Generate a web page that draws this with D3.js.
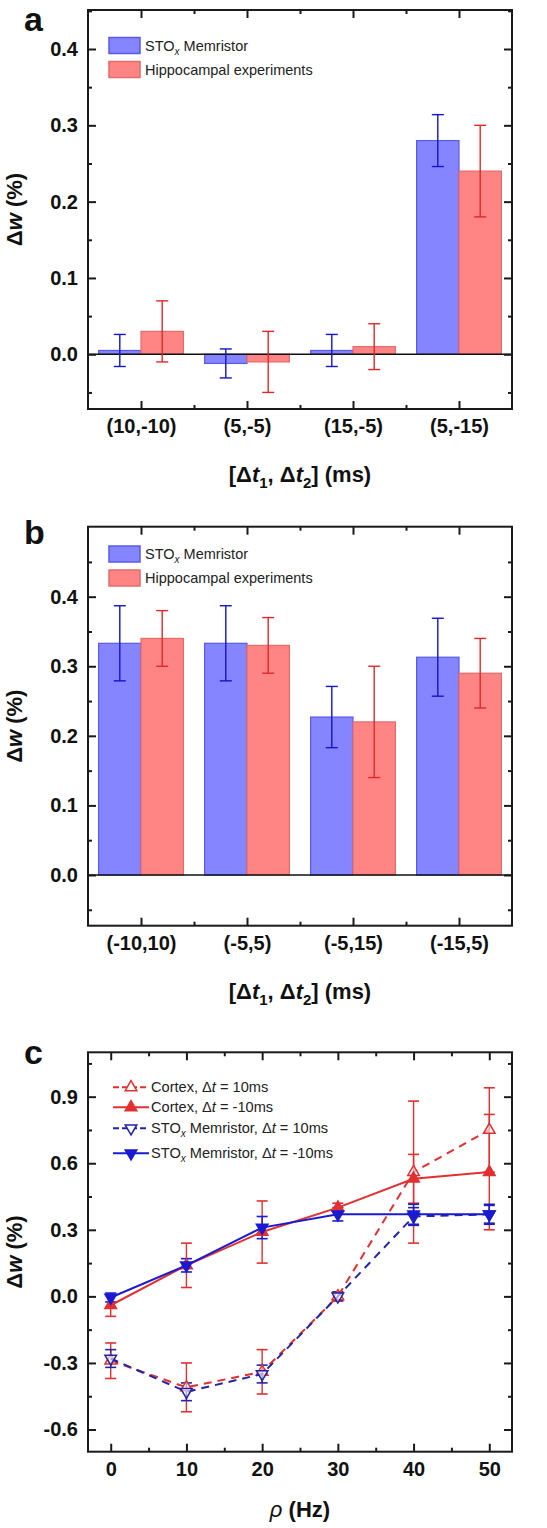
<!DOCTYPE html>
<html><head><meta charset="utf-8">
<script src="https://cdn.jsdelivr.net/npm/d3@7"></script>
<style>
body{margin:0;background:#fff;}
svg{display:block;font-family:"Liberation Sans",Arial,sans-serif;}
</style></head>
<body><svg id="c" width="547" height="1528"></svg>
<script>
// ---------- data ----------
const catsA = ["(10,-10)","(5,-5)","(15,-5)","(5,-15)"];
const stoA = [0.005,-0.012,0.005,0.28];
const stoErrA = [0.021,0.019,0.021,0.034];
const hipA = [0.03,-0.01,0.01,0.24];
const hipErrA = [0.04,0.04,0.03,0.06];

const catsB = ["(-10,10)","(-5,5)","(-5,15)","(-15,5)"];
const stoB = [0.333,0.333,0.227,0.313];
const stoErrB = [0.054,0.054,0.044,0.056];
const hipB = [0.34,0.33,0.22,0.29];
const hipErrB = [0.04,0.04,0.08,0.05];

const freq = [0,10,20,30,40,50];
const cortexPos = [-0.29,-0.41,-0.34,0.0,0.56,0.75];
const cortexPosErr = [0.08,0.11,0.10,0.02,0.32,0.19];
const cortexNeg = [-0.04,0.14,0.29,0.40,0.53,0.56];
const cortexNegErr = [0.05,0.10,0.14,0.02,0.11,0.26];
const stoPos = [-0.28,-0.43,-0.35,0.0,0.36,0.37];
const stoPosErr = [0.04,0.04,0.04,0.02,0.04,0.04];
const stoNeg = [-0.005,0.14,0.31,0.37,0.37,0.37];
const stoNegErr = [0.02,0.03,0.05,0.03,0.045,0.045];

const yTicksAB = [0,0.1,0.2,0.3,0.4];
const yMinorAB = [-0.05,0.05,0.15,0.25,0.35,0.45];
const yTicksC = [-0.6,-0.3,0,0.3,0.6,0.9];
const yMinorC = [-0.45,-0.15,0.15,0.45,0.75,1.05];
const xTicksC = [0,10,20,30,40,50];
const xMinorC = [5,15,25,35,45];

// ---------- styles ----------
const AX = "#1a1a1a";
const BLUE_FILL = "#8585ff", BLUE_EDGE = "#5a5ae6", BLUE_ERR = "#1414c8";
const RED_FILL = "#ff8585", RED_EDGE = "#e66a6a", RED_ERR = "#e02828";
const C_RED = "#e23030", C_BLUE = "#1a1ad2", C_BLUE_D = "#2323a8";

const svg = d3.select("#c");
const L = 88, R = 512;

function frame(g, x, y, top, bottom, xMajor, xMinor, yMajor, yMinor, xFmt){
  const tickStyle = s => { s.select(".domain").remove(); s.selectAll("line").attr("stroke",AX).attr("stroke-width",2); };
  g.append("g").attr("transform",`translate(${L},0)`)
    .call(d3.axisLeft(y).tickValues(yMajor).tickSize(-8).tickPadding(10).tickFormat(d3.format(".1f")))
    .call(tickStyle)
    .call(s=>s.selectAll("text").attr("font-size",20).attr("font-weight","bold").attr("fill","#111")
      .attr("font-family",'"Liberation Sans",Arial,sans-serif'));
  g.append("g").attr("transform",`translate(${L},0)`)
    .call(d3.axisLeft(y).tickValues(yMinor).tickSize(-4).tickFormat("")).call(tickStyle);
  g.append("g").attr("transform",`translate(${R},0)`)
    .call(d3.axisRight(y).tickValues(yMajor).tickSize(-8).tickFormat("")).call(tickStyle);
  g.append("g").attr("transform",`translate(${R},0)`)
    .call(d3.axisRight(y).tickValues(yMinor).tickSize(-4).tickFormat("")).call(tickStyle);
  g.append("g").attr("transform",`translate(0,${bottom})`)
    .call(d3.axisBottom(x).tickValues(xMajor).tickSize(-8).tickPadding(10).tickFormat(xFmt))
    .call(tickStyle)
    .call(s=>s.selectAll("text").attr("font-size",20).attr("font-weight","bold").attr("fill","#111")
      .attr("font-family",'"Liberation Sans",Arial,sans-serif'));
  g.append("g").attr("transform",`translate(0,${bottom})`)
    .call(d3.axisBottom(x).tickValues(xMinor).tickSize(-4).tickFormat("")).call(tickStyle);
  g.append("g").attr("transform",`translate(0,${top})`)
    .call(d3.axisTop(x).tickValues(xMajor).tickSize(-8).tickFormat("")).call(tickStyle);
  g.append("g").attr("transform",`translate(0,${top})`)
    .call(d3.axisTop(x).tickValues(xMinor).tickSize(-4).tickFormat("")).call(tickStyle);
  g.append("rect").attr("x",L).attr("y",top).attr("width",R-L).attr("height",bottom-top)
    .attr("fill","none").attr("stroke",AX).attr("stroke-width",2);
}

function yTitle(g, cy){
  const t = g.append("text").attr("transform",`translate(22,${cy}) rotate(-90)`)
    .attr("text-anchor","middle").attr("font-size",22).attr("font-weight","bold").attr("fill","#111");
  t.append("tspan").text("Δ");
  t.append("tspan").attr("font-style","italic").text("w");
  t.append("tspan").text(" (%)");
}
function xTitleDt(g, cx, cy){
  const t = g.append("text").attr("x",cx).attr("y",cy).attr("text-anchor","middle")
    .attr("font-size",22).attr("font-weight","bold").attr("fill","#111");
  t.append("tspan").text("[Δ");
  t.append("tspan").attr("font-style","italic").text("t");
  t.append("tspan").attr("font-size",15).attr("dy",6).text("1");
  t.append("tspan").attr("dy",-6).text(", Δ");
  t.append("tspan").attr("font-style","italic").text("t");
  t.append("tspan").attr("font-size",15).attr("dy",6).text("2");
  t.append("tspan").attr("dy",-6).text("] (ms)");
}
function panelLabel(g, txt, yb){
  g.append("text").attr("x",24).attr("y",yb).attr("font-size",34).attr("font-weight","bold")
    .attr("fill","#111").text(txt);
}
function stoText(sel, rest){
  sel.append("tspan").text("STO");
  sel.append("tspan").attr("font-style","italic").attr("font-size",10).attr("dy",4).text("x");
  sel.append("tspan").attr("dy",-4).text(rest);
}

function barPanel(top, bottom, ydom, cats, sto, stoErr, hip, hipErr, legY){
  const g = svg.append("g");
  const x = d3.scaleLinear().domain([0.5,4.5]).range([L,R]);
  const y = d3.scaleLinear().domain(ydom).range([bottom,top]);
  const bw = x(1.4)-x(1);
  const idx = d3.range(cats.length);
  const series = [
    {v:sto, e:stoErr, off:-0.2, fill:BLUE_FILL, edge:BLUE_EDGE, err:BLUE_ERR},
    {v:hip, e:hipErr, off:0.2, fill:RED_FILL, edge:RED_EDGE, err:RED_ERR}
  ];
  series.forEach(s=>{
    g.selectAll(null).data(idx).enter().append("rect")
      .attr("x",i=>x(i+1+s.off)-bw/2).attr("width",bw)
      .attr("y",i=>Math.min(y(s.v[i]),y(0))).attr("height",i=>Math.abs(y(s.v[i])-y(0)))
      .attr("fill",s.fill).attr("stroke",s.edge).attr("stroke-width",1.2);
  });
  g.append("line").attr("x1",L).attr("x2",R).attr("y1",y(0)).attr("y2",y(0))
    .attr("stroke","#111").attr("stroke-width",1.6);
  series.forEach(s=>{
    idx.forEach(i=>{
      const cx = x(i+1+s.off);
      g.append("line").attr("x1",cx).attr("x2",cx).attr("y1",y(s.v[i]-s.e[i])).attr("y2",y(s.v[i]+s.e[i]))
        .attr("stroke",s.err).attr("stroke-width",1.4);
      [s.v[i]-s.e[i], s.v[i]+s.e[i]].forEach(v=>{
        g.append("line").attr("x1",cx-6).attr("x2",cx+6).attr("y1",y(v)).attr("y2",y(v))
          .attr("stroke",s.err).attr("stroke-width",1.4);
      });
    });
  });
  frame(g, x, y, top, bottom, [1,2,3,4], [1.5,2.5,3.5], yTicksAB, yMinorAB.filter(v=>v>ydom[0]&&v<ydom[1]), i=>cats[i-1]);
  const lg = g.append("g");
  [{c:BLUE_FILL,e:BLUE_EDGE,sto:true},{c:RED_FILL,e:RED_EDGE,sto:false}].forEach((d,k)=>{
    const yy = legY + k*24;
    lg.append("rect").attr("x",109).attr("y",yy-8).attr("width",31).attr("height",16)
      .attr("fill",d.c).attr("stroke",d.e).attr("stroke-width",1.5);
    const t = lg.append("text").attr("x",145).attr("y",yy+5).attr("font-size",14.5).attr("fill","#222");
    if(d.sto) stoText(t," Memristor"); else t.text("Hippocampal experiments");
  });
  yTitle(g, (top+bottom)/2);
  xTitleDt(g, 300, bottom+73);
  return g;
}

const ga = barPanel(10, 409, [-0.0717,0.4511], catsA, stoA, stoErrA, hipA, hipErrA, 45.5);
panelLabel(ga,"a",31);
const gb = barPanel(526.7, 925.7, [-0.0729,0.5006], catsB, stoB, stoErrB, hipB, hipErrB, 554);
panelLabel(gb,"b",544);

(function(){
  const top = 1052.3, bottom = 1451.7;
  const g = svg.append("g");
  const x = d3.scaleLinear().domain([-3,53]).range([L,R]);
  const y = d3.scaleLinear().domain([-0.7,1.1]).range([bottom,top]);
  const series = [
    {v:cortexPos, e:cortexPosErr, col:C_RED, dash:true, up:true, open:true, label:"Cortex, "},
    {v:cortexNeg, e:cortexNegErr, col:C_RED, dash:false, up:true, open:false, label:"Cortex, "},
    {v:stoPos, e:stoPosErr, col:C_BLUE_D, dash:true, up:false, open:true, label:"sto"},
    {v:stoNeg, e:stoNegErr, col:C_BLUE, dash:false, up:false, open:false, label:"sto"}
  ];
  const dts = ["10ms","-10ms","10ms","-10ms"];
  const sym = d3.symbol(d3.symbolTriangle, 58);
  const line = d3.line().x((d,i)=>x(freq[i])).y(d=>y(d));
  series.forEach(s=>{
    freq.forEach((f,i)=>{
      const cx = x(f), lo = s.v[i]-s.e[i], hi = s.v[i]+s.e[i];
      g.append("line").attr("x1",cx).attr("x2",cx).attr("y1",y(lo)).attr("y2",y(hi))
        .attr("stroke",s.col).attr("stroke-width",1.4);
      [lo,hi].forEach(v=>g.append("line").attr("x1",cx-5.5).attr("x2",cx+5.5).attr("y1",y(v)).attr("y2",y(v))
        .attr("stroke",s.col).attr("stroke-width",1.6));
    });
  });
  series.forEach(s=>{
    g.append("path").attr("d",line(s.v)).attr("fill","none").attr("stroke",s.col)
      .attr("stroke-width",2).attr("stroke-dasharray",s.dash?"8,6":null);
    freq.forEach((f,i)=>{
      g.append("path").attr("d",sym()).attr("transform",`translate(${x(f)},${y(s.v[i])}) rotate(${s.up?0:180})`)
        .attr("fill",s.open?"#fff":s.col).attr("fill-opacity",s.open?0.6:1).attr("stroke",s.col).attr("stroke-width",1.5);
    });
  });
  frame(g, x, y, top, bottom, xTicksC, xMinorC, yTicksC, yMinorC, d3.format("d"));
  const rows = [1087.3,1107.3,1128.3,1153.3];
  series.forEach((s,k)=>{
    const yy = rows[k];
    g.append("line").attr("x1",113).attr("x2",149).attr("y1",yy).attr("y2",yy).attr("stroke",s.col)
      .attr("stroke-width",2).attr("stroke-dasharray",s.dash?"6,3":null);
    g.append("path").attr("d",sym()).attr("transform",`translate(131,${yy}) rotate(${s.up?0:180})`)
      .attr("fill",s.open?"#fff":s.col).attr("stroke",s.col).attr("stroke-width",1.5);
    const t = g.append("text").attr("x",151).attr("y",yy+5).attr("font-size",14.6).attr("fill","#222");
    if(s.label==="sto"){ stoText(t," Memristor, "); } else t.append("tspan").text("Cortex, ");
    t.append("tspan").text("Δ");
    t.append("tspan").attr("font-style","italic").text("t");
    t.append("tspan").text(" = "+dts[k]);
  });
  yTitle(g,(top+bottom)/2);
  const xt = g.append("text").attr("x",300).attr("y",bottom+65).attr("text-anchor","middle")
    .attr("font-size",22).attr("font-weight","bold").attr("fill","#111");
  xt.append("tspan").attr("font-style","italic").attr("font-weight","normal").text("ρ");
  xt.append("tspan").text(" (Hz)");
  panelLabel(g,"c",1064);
})();
svg.selectAll(".tick text").each(function(){ this.textContent = this.textContent.replace(/−/g,"-"); });
</script></body></html>
